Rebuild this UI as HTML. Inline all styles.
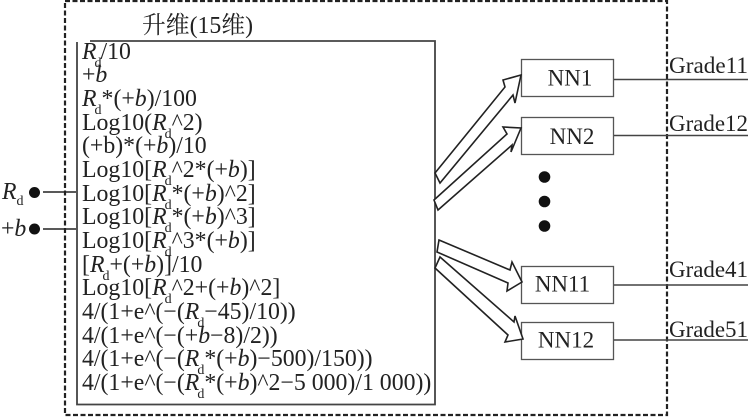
<!DOCTYPE html>
<html><head><meta charset="utf-8"><style>
html,body{margin:0;padding:0;background:#fff}
svg{display:block}
text{font-family:"Liberation Serif","Noto Serif CJK SC",serif;fill:#222}
.f{font-size:23.8px}
.g{font-size:23px}
.n{font-size:23px}
.it{font-style:italic}
.s{font-size:14px}
.a{fill:#fff;stroke:#222;stroke-width:1.6}
</style></head><body>
<svg width="750" height="417" viewBox="0 0 750 417" xmlns="http://www.w3.org/2000/svg">
<rect x="65" y="1" width="602" height="414" fill="none" stroke="#222" stroke-width="2.200" stroke-dasharray="5 2.500"/>
<path d="M90 41H435V404.500H77V42" fill="none" stroke="#444" stroke-width="1.800"/>
<text x="142" y="33" class="f">升维(15维)</text>
<g class="f">
<text x="82" y="59"><tspan class="it">R</tspan><tspan class="s" dy="8" dx="-2">d</tspan><tspan dy="-8" dx="-1">/10</tspan></text>
<text x="82" y="82">+<tspan class="it">b</tspan></text>
<text x="82" y="106"><tspan class="it">R</tspan><tspan class="s" dy="8" dx="-2">d</tspan><tspan dy="-8" dx="0">*(+</tspan><tspan class="it">b</tspan>)/100</text>
<text x="82" y="130">Log10(<tspan class="it">R</tspan><tspan class="s" dy="8" dx="-2">d</tspan><tspan dy="-8" dx="0">^2)</tspan></text>
<text x="82" y="153">(+b)*(+<tspan class="it">b</tspan>)/10</text>
<text x="82" y="177">Log10[<tspan class="it">R</tspan><tspan class="s" dy="8" dx="-2">d</tspan><tspan dy="-8" dx="0">^2*(+</tspan><tspan class="it">b</tspan>)]</text>
<text x="82" y="201">Log10[<tspan class="it">R</tspan><tspan class="s" dy="8" dx="-2">d</tspan><tspan dy="-8" dx="0">*(+</tspan><tspan class="it">b</tspan>)^2]</text>
<text x="82" y="224">Log10[<tspan class="it">R</tspan><tspan class="s" dy="8" dx="-2">d</tspan><tspan dy="-8" dx="0">*(+</tspan><tspan class="it">b</tspan>)^3]</text>
<text x="82" y="248">Log10[<tspan class="it">R</tspan><tspan class="s" dy="8" dx="-2">d</tspan><tspan dy="-8" dx="0">^3*(+</tspan><tspan class="it">b</tspan>)]</text>
<text x="82" y="272">[<tspan class="it">R</tspan><tspan class="s" dy="8" dx="-2">d</tspan><tspan dy="-8" dx="0">+(+</tspan><tspan class="it">b</tspan>)]/10</text>
<text x="82" y="295">Log10[<tspan class="it">R</tspan><tspan class="s" dy="8" dx="-2">d</tspan><tspan dy="-8" dx="0">^2+(+</tspan><tspan class="it">b</tspan>)^2]</text>
<text x="82" y="319">4/(1+e^(−(<tspan class="it">R</tspan><tspan class="s" dy="8" dx="-2">d</tspan><tspan dy="-8" dx="0">−45)/10))</tspan></text>
<text x="82" y="343">4/(1+e^(−(+<tspan class="it">b</tspan>−8)/2))</text>
<text x="82" y="366">4/(1+e^(−(<tspan class="it">R</tspan><tspan class="s" dy="8" dx="-2">d</tspan><tspan dy="-8" dx="0">*(+</tspan><tspan class="it">b</tspan>)−500)/150))</text>
<text x="82" y="390">4/(1+e^(−(<tspan class="it">R</tspan><tspan class="s" dy="8" dx="-2">d</tspan><tspan dy="-8" dx="0">*(+</tspan><tspan class="it">b</tspan>)^2−5 000)/1 000))</text>
</g>
<text x="2" y="199" class="f"><tspan class="it">R</tspan><tspan class="s" dy="6">d</tspan></text>
<text x="1" y="236" class="f">+<tspan class="it">b</tspan></text>
<circle cx="34.500" cy="192.500" r="5.500" fill="#111"/>
<circle cx="34.500" cy="229" r="5.500" fill="#111"/>
<path d="M43 192H76M43 229H76" stroke="#222" stroke-width="1.600" fill="none"/>
<g fill="#fff" stroke="#555" stroke-width="1.300">
<rect x="521.500" y="59.500" width="92" height="37"/>
<rect x="521.500" y="117.500" width="92" height="37"/>
<rect x="521.500" y="266.500" width="92" height="37"/>
<rect x="521.500" y="322.500" width="92" height="37"/>
</g>
<g class="n" text-anchor="middle">
<text x="570" y="85.500">NN1</text>
<text x="572" y="144">NN2</text>
<text x="562.500" y="291.500">NN11</text>
<text x="566" y="347.500">NN12</text>
</g>
<path d="M614 79.500H748M614 135.500H748M614 285H748M614 340H748" stroke="#444" stroke-width="1.500" fill="none"/>
<g class="g">
<text x="669" y="73" textLength="79" lengthAdjust="spacingAndGlyphs">Grade11</text>
<text x="669" y="131" textLength="79" lengthAdjust="spacingAndGlyphs">Grade12</text>
<text x="669" y="277" textLength="79" lengthAdjust="spacingAndGlyphs">Grade41</text>
<text x="669" y="337" textLength="79" lengthAdjust="spacingAndGlyphs">Grade51</text>
</g>
<circle cx="544.500" cy="177" r="5.800" fill="#111"/>
<circle cx="544.500" cy="201.500" r="5.800" fill="#111"/>
<circle cx="544.500" cy="226" r="5.800" fill="#111"/>
<polygon class="a" points="435,173 505,87 503,80 521,75 515,103 513,95 440,183"/>
<polygon class="a" points="434,200 507,134 503,127 521,128 511,152 512,145 438,210"/>
<polygon class="a" points="439,240 510,270 512,262 522,282 507,291 508,283 437,252"/>
<polygon class="a" points="440,257 514,322 515,316 523,339 505,342 508,335 435,268"/>
</svg>
</body></html>
